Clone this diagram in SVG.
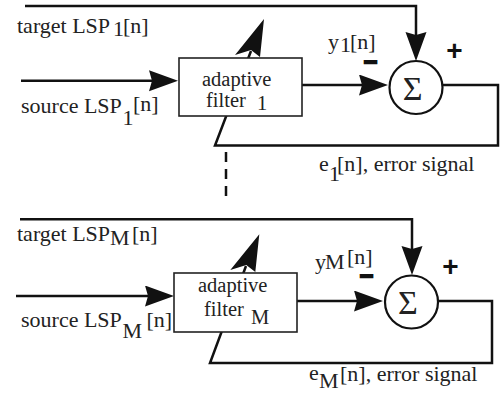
<svg xmlns="http://www.w3.org/2000/svg" width="502" height="396" viewBox="0 0 502 396">
<style>
.t{font-family:'Liberation Serif','Times New Roman',serif;font-size:22px;fill:#222}
.bx{font-size:20.5px}
.sig{font-size:34px;text-anchor:middle}
.pm{font-family:'Liberation Sans',Arial,sans-serif;font-weight:bold;font-size:28px;text-anchor:middle;fill:#111}
.mn{font-size:24px;stroke:#111;stroke-width:1.6}
.w{fill:none;stroke:#111;stroke-width:2.5}
.box{fill:#fff;stroke:#222;stroke-width:1.6}
.circ{fill:#fff;stroke:#111;stroke-width:2.2}
.ah{fill:#111}
</style>
<defs>
<marker id="arr" markerUnits="userSpaceOnUse" markerWidth="30" markerHeight="22" viewBox="0 0 30 22" refX="19" refY="10.5" orient="auto">
<path d="M0,0 L29,10.5 L0,21 L3,10.5 z" fill="#111"/>
</marker>
</defs>
<g id="connectors">
<path class="w" d="M25,6 H416 V51" marker-end="url(#arr)"/>
<path class="w" d="M21,80.7 H168" marker-end="url(#arr)"/>
<path class="w" d="M302,85 H378" marker-end="url(#arr)"/>
<path class="w" d="M442,85 H498 V145.5 H215 L251,51"/>
<line class="w" x1="226" y1="152" x2="226" y2="203" stroke-dasharray="10,7"/>
<path class="w" d="M20,219.3 H412 V265" marker-end="url(#arr)"/>
<path class="w" d="M16,296 H164" marker-end="url(#arr)"/>
<path class="w" d="M297,301 H373" marker-end="url(#arr)"/>
<path class="w" d="M438,301 H492 V363 H210 L246,266"/>
</g>
<g id="target1"><text class="t" x="17" y="32.7">target LSP<tspan x="113" y="36">1</tspan><tspan x="123" y="32.7">[n]</tspan></text></g>
<g id="source1"><text class="t" x="21" y="112.7">source LSP<tspan x="122.5" y="125">1</tspan><tspan x="133" y="111">[n]</tspan></text></g>
<g id="filter1">
<rect class="box" x="179" y="58" width="123" height="58"/>
<text class="t bx" x="202" y="86">adaptive</text>
<text class="t bx" x="206" y="106.5">filter<tspan x="257" y="110">1</tspan></text>
<polygon class="ah" points="264,19 260,57 251,50 235,55"/>
</g>
<g id="sum1">
<circle class="circ" cx="416" cy="87.5" r="26.5"/>
<text class="t sig" x="412.7" y="100">Σ</text>
<text class="pm" x="454.5" y="60">+</text>
<text class="pm mn" x="370.5" y="70">−</text>
</g>
<g id="y1"><text class="t" x="328" y="49">y<tspan x="340" y="52">1</tspan><tspan x="350" y="49">[n]</tspan></text></g>
<g id="e1"><text class="t" x="319" y="170.5">e<tspan x="329" y="181">1</tspan><tspan x="337" y="170.5">[n], error signal</tspan></text></g>
<g id="targetM"><text class="t" x="17" y="241">target LSP<tspan x="110" y="245.3">M</tspan><tspan x="132" y="241">[n]</tspan></text></g>
<g id="sourceM"><text class="t" x="21" y="326.7">source LSP<tspan x="122.5" y="337.7">M</tspan><tspan x="146.5" y="326.7">[n]</tspan></text></g>
<g id="filterM">
<rect class="box" x="174" y="273" width="123" height="59"/>
<text class="t bx" x="198" y="292">adaptive</text>
<text class="t bx" x="204" y="315.5">filter<tspan x="251" y="324">M</tspan></text>
<polygon class="ah" points="259.3,234.3 255.3,272 246.3,265 230.3,270"/>
</g>
<g id="sumM">
<circle class="circ" cx="411.5" cy="302" r="26.5"/>
<text class="t sig" x="408" y="314.3">Σ</text>
<text class="pm" x="450.5" y="276">+</text>
<text class="pm mn" x="366.5" y="284">−</text>
</g>
<g id="yM"><text class="t" x="315" y="269">y<tspan x="325" y="269">M</tspan><tspan x="347" y="264">[n]</tspan></text></g>
<g id="eM"><text class="t" x="309" y="380">e<tspan x="319" y="388">M</tspan><tspan x="340" y="381">[n], error signal</tspan></text></g>
</svg>
